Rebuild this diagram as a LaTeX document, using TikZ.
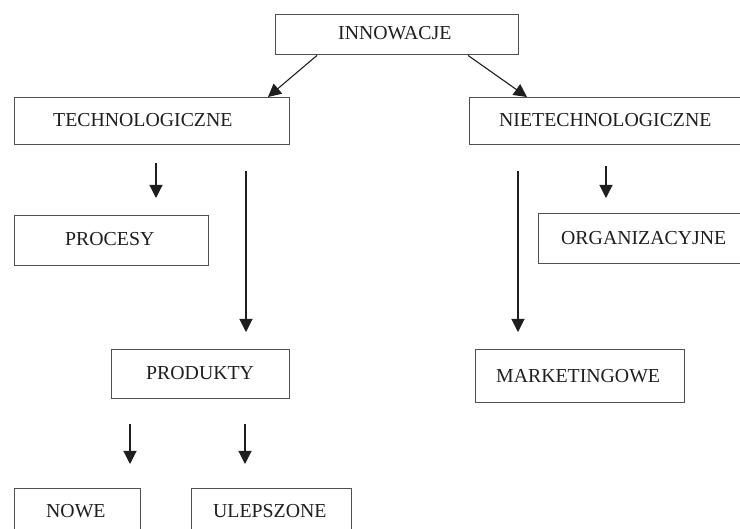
\documentclass[tikz,border=0pt]{standalone}
\usepackage{fontspec}
\setmainfont{Liberation Serif}
\usetikzlibrary{arrows.meta}
\definecolor{boxline}{HTML}{505050}
\definecolor{ink}{HTML}{1E1E1E}
\begin{document}
\begin{tikzpicture}[x=1pt,y=-1pt,
  box/.style={draw=boxline, line width=1.4pt, rectangle, inner sep=0pt, anchor=north west},
  lbl/.style={anchor=base west, inner sep=0pt, text=ink, font=\fontsize{19.8}{24}\selectfont},
  arr/.style={draw=ink, line width=1.1pt, -{Triangle[width=13pt,length=13pt]}}]
\useasboundingbox (0,0) rectangle (740,529);
\clip (0,0) rectangle (740,529);
\fill[white] (0,0) rectangle (740,529);
% boxes
\node[box, minimum width=243pt, minimum height=40pt] (inn) at (275,14) {};
\node[box, minimum width=275pt, minimum height=47pt] (tech) at (14,97) {};
\node[box, minimum width=281pt, minimum height=47pt] (nietech) at (469,97) {};
\node[box, minimum width=194pt, minimum height=50pt] (procesy) at (14,215) {};
\node[box, minimum width=212pt, minimum height=50pt] (org) at (538,213) {};
\node[box, minimum width=178pt, minimum height=49pt] (produkty) at (111,349) {};
\node[box, minimum width=209pt, minimum height=53pt] (marketing) at (475,349) {};
\node[box, minimum width=126pt, minimum height=60pt] (nowe) at (14,488) {};
\node[box, minimum width=160pt, minimum height=60pt] (ulep) at (191,488) {};
% labels
\node[lbl] (tinn) at (338,40) {INNOWACJE};
\node[lbl] (ttech) at (53,127) {TECHNOLOGICZNE};
\node[lbl] (tnietech) at (499,127) {NIETECHNOLOGICZNE};
\node[lbl] (tprocesy) at (65,246) {PROCESY};
\node[lbl] (torg) at (561,245) {ORGANIZACYJNE};
\node[lbl] (tprodukty) at (146,380) {PRODUKTY};
\node[lbl] (tmarketing) at (496,383) {MARKETINGOWE};
\node[lbl] (tnowe) at (46,518) {NOWE};
\node[lbl] (tulep) at (213,518) {ULEPSZONE};
% connector columns
\coordinate (s1) at (317,0);
\coordinate (e1) at (268,0);
\coordinate (s2) at (468,0);
\coordinate (e2) at (527,0);
\coordinate (c1) at (156,0);
\coordinate (c2) at (246,0);
\coordinate (c3) at (518,0);
\coordinate (c4) at (606,0);
\coordinate (c5) at (130,0);
\coordinate (c6) at (245,0);
% connectors
\draw[arr] (inn.south -| s1) -- (tech.north -| e1);
\draw[arr] (inn.south -| s2) -- (nietech.north -| e2);
\draw[arr, shorten <=18pt, shorten >=17pt] (tech.south -| c1) -- (procesy.north -| c1);
\draw[arr, shorten <=26pt, shorten >=17pt] (tech.south -| c2) -- (produkty.north -| c2);
\draw[arr, shorten <=26pt, shorten >=17pt] (nietech.south -| c3) -- (marketing.north -| c3);
\draw[arr, shorten <=21pt, shorten >=15pt] (nietech.south -| c4) -- (org.north -| c4);
\draw[arr, shorten <=25pt, shorten >=24pt] (produkty.south -| c5) -- (nowe.north -| c5);
\draw[arr, shorten <=25pt, shorten >=24pt] (produkty.south -| c6) -- (ulep.north -| c6);
\end{tikzpicture}
\end{document}
